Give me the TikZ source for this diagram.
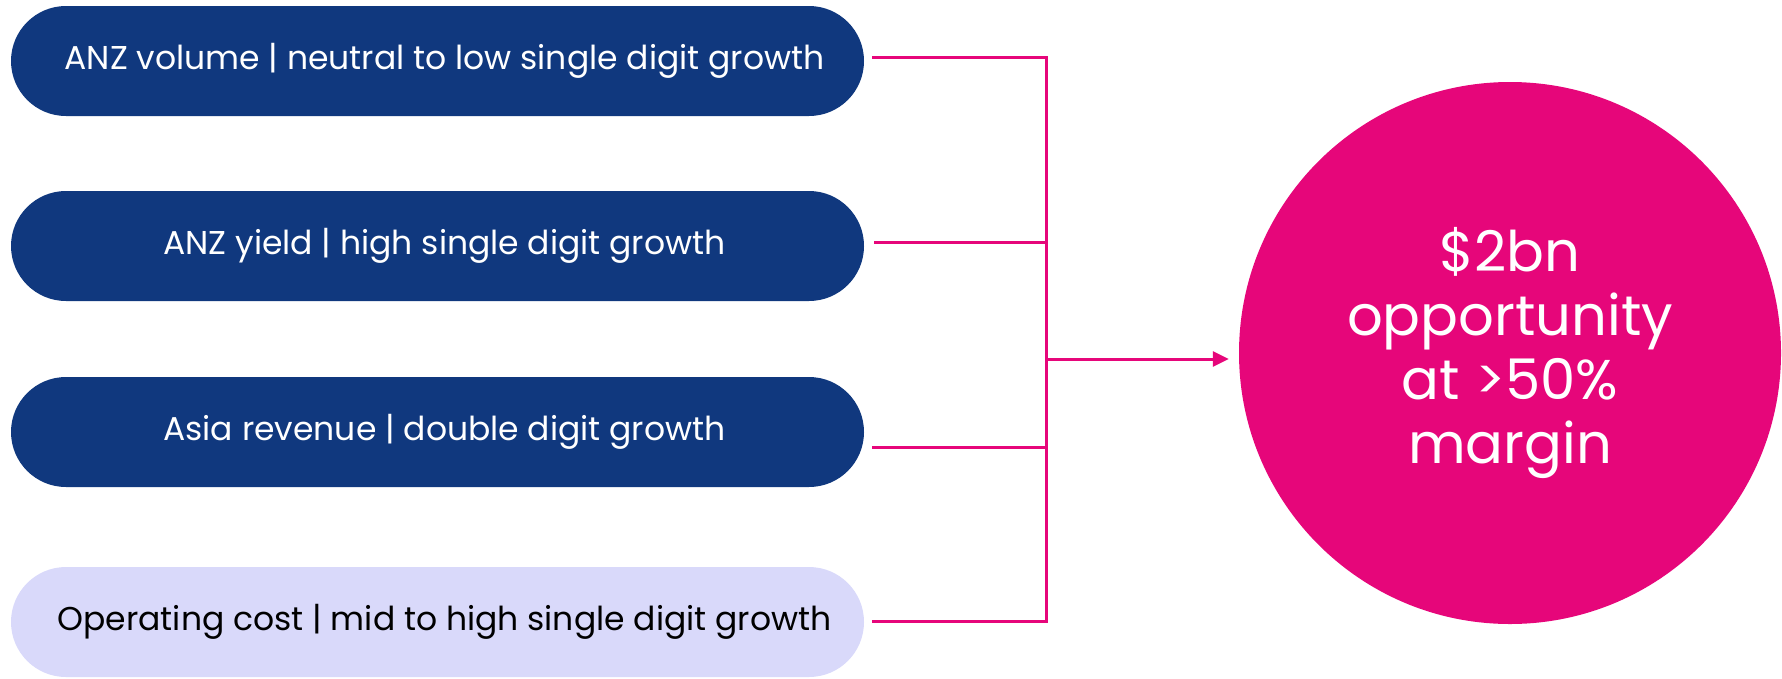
\documentclass[tikz,border=0pt]{standalone}
\usepackage{fontspec}
\setmainfont{Poppins}
\usetikzlibrary{calc,arrows.meta}
\definecolor{navy}{HTML}{10387E}
\definecolor{magenta}{HTML}{E6067A}
\definecolor{lavender}{HTML}{D9D9FA}
\tikzset{
  pill/.style={rounded corners=55pt, minimum width=853pt, minimum height=110pt,
    inner sep=0pt, font=\fontsize{33}{38}\selectfont,
    execute at begin node=\hspace*{14pt}},
  darkpill/.style={pill, fill=navy, text=white},
  lightpill/.style={pill, fill=lavender, text=black},
  link/.style={draw=magenta, line width=3pt},
  bigdot/.style={circle, fill=magenta, text=white, minimum size=542pt, inner sep=0pt,
    align=center, font=\fontsize{56}{64}\selectfont},
}
\begin{document}
\begin{tikzpicture}[x=1pt,y=-1pt]
  \useasboundingbox (0,0) rectangle (1782,678);
  \node[darkpill]  (p1) at (437.5,61)  {ANZ volume | neutral to low single digit growth};
  \node[darkpill]  (p2) at (437.5,246) {ANZ yield | high single digit growth};
  \node[darkpill]  (p3) at (437.5,432) {Asia revenue | double digit growth};
  \node[lightpill] (p4) at (437.5,622) {Operating cost | mid to high single digit growth};
  \node[bigdot] (goal) at (1510,353) {\$2bn\\opportunity\\at >50\%\\margin};

  % vertical collector bar and its junctions
  \coordinate (j1) at (1046,57);
  \coordinate (j2) at (1046,242);
  \coordinate (j3) at (1046,447);
  \coordinate (j4) at (1046,621);
  \coordinate (jout) at (1046,359);

  \draw[link] ($(p1.east)+(8,-4)$) -- (j1) -- (j4) -- ($(p4.east)+(8,-1)$);
  \draw[link] ($(p2.east)+(10,-4)$) -- (j2);
  \draw[link] ($(p3.east)+(8,15)$) -- (j3);
  \draw[link, -{Triangle[length=16pt,width=15pt]}] (jout) -- ($(goal.west |- jout)+(-10,0)$);
\end{tikzpicture}
\end{document}
